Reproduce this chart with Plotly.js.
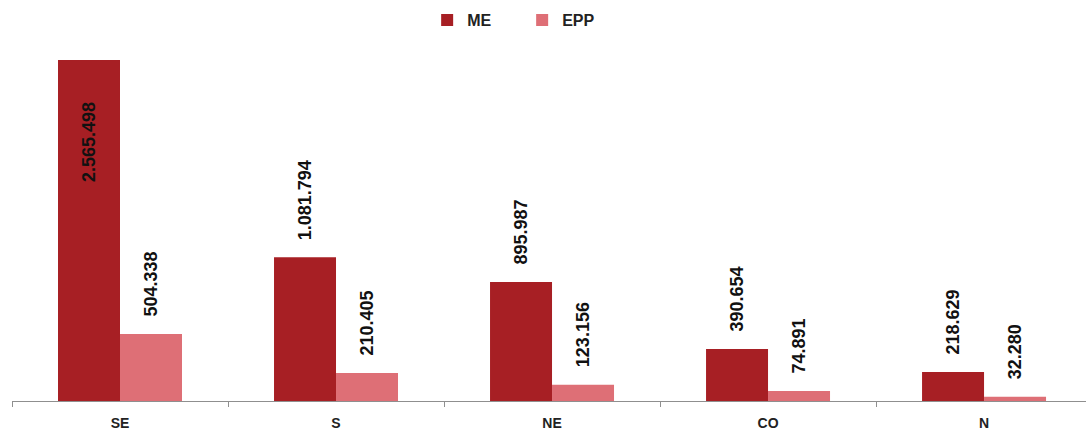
<!DOCTYPE html>
<html>
<head>
<meta charset="utf-8">
<script src="https://cdn.plot.ly/plotly-3.0.1.min.js"></script>
<style>
  html, body { margin: 0; padding: 0; background: #fff; }
  #chart { width: 1086px; height: 434px; }
</style>
</head>
<body>
<div id="chart"></div>
<script>
// Regions and the two series (ME, EPP)
const regions = ['SE', 'S', 'NE', 'CO', 'N'];
const meValues = [2565498, 1081794, 895987, 390654, 218629];
const eppValues = [504338, 210405, 123156, 74891, 32280];
const seriesNames = ['ME', 'EPP'];

const meColor = '#a71f24';
const eppColor = '#de6f76';

// Brazilian-style thousands separator: 2.565.498
function fmt(v) {
  return String(v).replace(/\B(?=(\d{3})+(?!\d))/g, '.');
}

const traces = [
  { type: 'bar', name: seriesNames[0], x: regions, y: meValues,
    marker: { color: meColor }, hoverinfo: 'x+y' },
  { type: 'bar', name: seriesNames[1], x: regions, y: eppValues,
    marker: { color: eppColor }, hoverinfo: 'x+y' }
];

// Vertical value labels; the tallest bar carries its label inside
const labelFont = { family: 'Liberation Sans, Arial, sans-serif', size: 18, color: '#111', weight: 700 };
const annotations = [];
const maxMe = Math.max(...meValues);
regions.forEach((r, i) => {
  const inside = meValues[i] === maxMe;
  annotations.push({
    x: r, y: meValues[i], xref: 'x', yref: 'y',
    text: fmt(meValues[i]), textangle: -90, showarrow: false,
    xshift: -31, yshift: inside ? -40 : 15,
    yanchor: inside ? 'top' : 'bottom', xanchor: 'center',
    font: labelFont
  });
  annotations.push({
    x: r, y: eppValues[i], xref: 'x', yref: 'y',
    text: fmt(eppValues[i]), textangle: -90, showarrow: false,
    xshift: 31, yshift: 15, yanchor: 'bottom', xanchor: 'center',
    font: labelFont
  });
});

const layout = {
  width: 1086, height: 434,
  margin: { l: 12, r: 0, t: 40, b: 33 },
  paper_bgcolor: '#fff', plot_bgcolor: '#fff',
  barmode: 'group', bargap: 0.426, bargroupgap: 0,
  showlegend: true,
  legend: {
    orientation: 'h', x: 0.475, xanchor: 'center', y: 1.008, yanchor: 'bottom',
    font: { family: 'Liberation Sans, Arial, sans-serif', size: 16, color: '#222', weight: 700 },
    itemwidth: 30, entrywidth: 50, entrywidthmode: 'pixels', traceorder: 'normal'
  },
  xaxis: {
    type: 'category', range: [-0.5, 4.472],
    showline: true, linecolor: '#8f8f8f', linewidth: 1,
    ticks: 'outside', tickson: 'boundaries', ticklen: 5, tickcolor: '#8f8f8f',
    ticklabelstandoff: 9,
    tickfont: { family: 'Liberation Sans, Arial, sans-serif', size: 14, color: '#222', weight: 700 },
    showgrid: false, zeroline: false, fixedrange: true
  },
  yaxis: { visible: false, range: [0, 2716000], showgrid: false, zeroline: false, fixedrange: true },
  annotations: annotations
};

Plotly.newPlot('chart', traces, layout, { displayModeBar: false, staticPlot: true });
</script>
</body>
</html>
